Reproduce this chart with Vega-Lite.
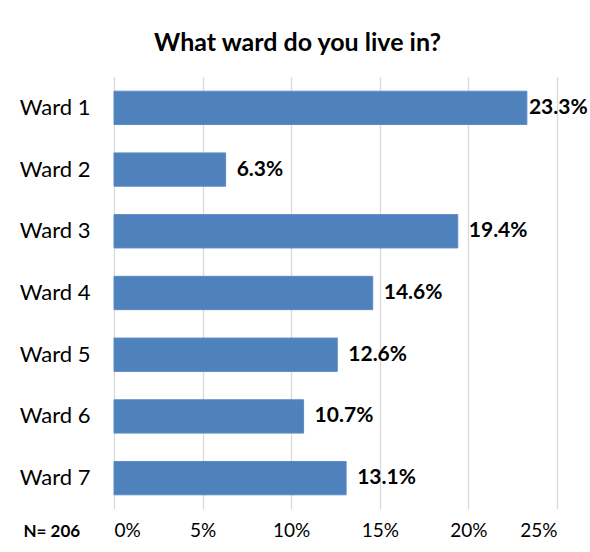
{
  "$schema": "https://vega.github.io/schema/vega-lite/v6.json",
  "autosize": {"type": "none"},
  "width": 443,
  "height": 432,
  "padding": {"left": 114, "top": 77, "right": 33, "bottom": 43},
  "background": "white",
  "title": {
    "text": "What ward do you live in?",
    "font": "Lato",
    "fontSize": 25,
    "fontWeight": "bold",
    "color": "#000000",
    "anchor": "middle",
    "dx": -38,
    "offset": 21
  },
  "data": {
    "values": [
      {"ward": "Ward 1", "pct": 0.233},
      {"ward": "Ward 2", "pct": 0.063},
      {"ward": "Ward 3", "pct": 0.194},
      {"ward": "Ward 4", "pct": 0.146},
      {"ward": "Ward 5", "pct": 0.126},
      {"ward": "Ward 6", "pct": 0.107},
      {"ward": "Ward 7", "pct": 0.131}
    ]
  },
  "encoding": {
    "y": {
      "field": "ward",
      "type": "nominal",
      "sort": null,
      "scale": {"paddingInner": 0.46, "paddingOuter": 0.23},
      "axis": {
        "title": null,
        "domain": false,
        "ticks": false,
        "labelFont": "Lato",
        "labelFontSize": 22,
        "labelColor": "#000000",
        "labelPadding": 24,
        "labelAlign": "right"
      }
    },
    "x": {
      "field": "pct",
      "type": "quantitative",
      "scale": {"domain": [0, 0.25], "nice": false},
      "axis": {
        "format": ".0%",
        "values": [0, 0.05, 0.1, 0.15, 0.2, 0.25],
        "domain": false,
        "ticks": false,
        "grid": true,
        "gridColor": "#d9d9d9",
        "gridWidth": 1.3,
        "labelFont": "Lato",
        "labelFontSize": 19,
        "labelColor": "#000000",
        "labelPadding": 12,
        "title": "N= 206",
        "titleFont": "Lato",
        "titleFontSize": 17,
        "titleFontWeight": "bold",
        "titleColor": "#000000",
        "titleAnchor": "start",
        "titleAlign": "left",
        "titleBaseline": "middle",
        "titleX": -91,
        "titleY": 22
      }
    }
  },
  "layer": [
    {"mark": {"type": "bar", "color": "#4F81BD", "stroke": "#5b8cc7", "strokeWidth": 1}},
    {
      "transform": [{"filter": "datum.ward !== 'Ward 1'"}],
      "mark": {"type": "text", "align": "left", "baseline": "middle", "dx": 11, "font": "Lato", "fontSize": 21, "fontWeight": "bold", "color": "#000000"},
      "encoding": {"text": {"field": "pct", "type": "quantitative", "format": ".1%"}}
    },
    {
      "transform": [{"filter": "datum.ward === 'Ward 1'"}],
      "mark": {"type": "text", "align": "left", "baseline": "middle", "dx": 2, "font": "Lato", "fontSize": 21, "fontWeight": "bold", "color": "#000000"},
      "encoding": {"text": {"field": "pct", "type": "quantitative", "format": ".1%"}}
    }
  ],
  "config": {"view": {"stroke": null}}
}
